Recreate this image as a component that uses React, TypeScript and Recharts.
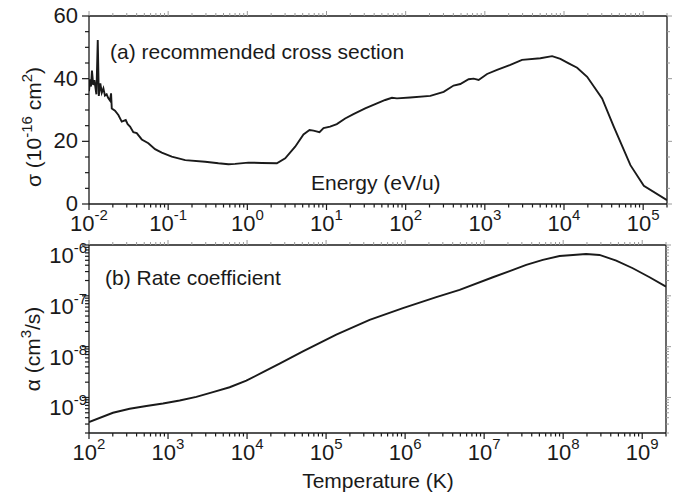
import React from 'react';
import { LineChart, Line, XAxis, YAxis } from 'recharts';

// (a) recommended cross section, sigma in 1e-16 cm^2 vs energy in eV/u
const energy = [
  0.01, 0.0103, 0.0106, 0.0109, 0.0113, 0.0117, 0.0124, 0.0129, 0.0133, 0.0139,
  0.0145, 0.0152, 0.0159, 0.0167, 0.0175, 0.0184, 0.019, 0.0194, 0.0213, 0.0235,
  0.0259, 0.0291, 0.0308, 0.033, 0.0363, 0.0401, 0.0464, 0.0562, 0.0683, 0.083,
  0.111, 0.164, 0.293, 0.431, 0.577, 0.701, 1.03, 1.52, 2.36, 3.01,
  4.02, 5.12, 6.1, 6.85, 8.16, 9.17, 11.1, 13.5, 17.2, 21.9,
  30.8, 43.4, 55.2, 67.1, 77.6, 114, 205, 302, 403, 490,
  624, 722, 835, 1067, 1427, 2100, 2950, 5030, 7080, 9000,
  11460, 14650, 19600, 30300, 42500, 69000, 101900, 200000,
];
const sigma = [
  36, 39.8, 37.5, 42.6, 38, 39.5, 35, 52.3, 34.5, 38.5,
  35.5, 36.9, 34.6, 35, 33.8, 33, 35.3, 30.5, 29.8, 28.4,
  26.3, 26.8, 25.5, 24.7, 22.9, 22.6, 20.6, 19.4, 17.5, 16.4,
  15.1, 14, 13.5, 13, 12.7, 12.8, 13.2, 13.1, 13, 14.6,
  18.3, 22.2, 23.6, 23.4, 22.9, 24.2, 24.7, 25.5, 27.3, 28.7,
  30.5, 32.1, 33.2, 33.9, 33.7, 34, 34.5, 35.8, 37.8, 38.3,
  39.8, 40, 39.6, 41.5, 42.8, 44.4, 46, 46.5, 47.2, 46.3,
  44.9, 43.5, 40.6, 33.7, 24.7, 12.4, 5.8, 1.2,
];

// (b) rate coefficient, alpha in cm^3/s vs temperature in K
const temperature = [
  100, 201, 327, 532, 863, 1403, 2280, 3700, 6020, 9790,
  15900, 25800, 50900, 134600, 355500, 938000, 2.48e6, 4.89e6, 1.29e7, 3.41e7,
  5.53e7, 9.0e7, 1.33e8, 1.95e8, 2.88e8, 4.69e8, 7.6e8, 1.24e9, 2e9,
];
const alpha = [
  3.28e-10, 5.0e-10, 6.0e-10, 6.8e-10, 7.6e-10, 8.7e-10, 1.03e-9, 1.27e-9, 1.59e-9, 2.15e-9,
  3.14e-9, 4.65e-9, 8.1e-9, 1.72e-8, 3.38e-8, 5.73e-8, 9.4e-8, 1.31e-7, 2.32e-7, 4.06e-7,
  5.08e-7, 6.08e-7, 6.37e-7, 6.67e-7, 6.37e-7, 4.93e-7, 3.49e-7, 2.32e-7, 1.52e-7,
];

const sigmaTicks = [0, 5, 10, 15, 20, 25, 30, 35, 40, 45, 50, 55, 60];
const sigmaMajor = [0, 20, 40, 60];
const energyDecades = [-2, -1, 0, 1, 2, 3, 4, 5];
const tempDecades = [2, 3, 4, 5, 6, 7, 8, 9];
const alphaDecades = [-10, -9, -8, -7, -6];

const INK = '#1a1a1a';
const FONT = '"Liberation Sans", Arial, Helvetica, sans-serif';

function logTicks(decades: number[], lo: number, hi: number) {
  const out: number[] = [];
  decades.forEach(d => {
    for (let k = 1; k < 10; k++) {
      const v = k * Math.pow(10, d);
      if (v >= lo * 0.999 && v <= hi * 1.001) out.push(v);
    }
  });
  return out;
}

const energyTicks = logTicks(energyDecades, 0.01, 2e5);
const tempTicks = logTicks(tempDecades, 100, 2e9);
const alphaTicks = logTicks(alphaDecades, 2e-10, 1e-6);

const expOf = (v: number) => Math.round(Math.log10(v));
const isMajor = (v: number) => Math.abs(v / Math.pow(10, expOf(v)) - 1) < 1e-6;

const crossSection = energy.map((e, i) => ({ e, s: sigma[i] }));
const rate = temperature.map((t, i) => ({ t, a: alpha[i] }));

const BottomLogTick = ({ x, y, payload }: any) => {
  const v = payload.value;
  const major = isMajor(v);
  return (
    <g>
      <line x1={x} x2={x} y1={y} y2={y + (major ? 6 : 3.5)} stroke={INK} strokeWidth={1.2} />
      {major && (
        <text x={x} y={y + 27} textAnchor="middle" fontSize={22} fill={INK} fontFamily={FONT}>
          10<tspan dy={-11} fontSize={15}>{`${expOf(v)}`}</tspan>
        </text>
      )}
    </g>
  );
};

const TopTick = ({ x, y, payload }: any) => (
  <line x1={x} x2={x} y1={y} y2={y - (isMajor(payload.value) ? 5 : 3)} stroke="#9a9a9a" strokeWidth={1} />
);

const LeftLinTick = ({ x, y, payload }: any) => {
  const major = sigmaMajor.includes(payload.value);
  return (
    <g>
      <line x1={x - (major ? 7 : 4)} x2={x} y1={y} y2={y} stroke={INK} strokeWidth={1.2} />
      {major && (
        <text x={x - 11} y={y + 7} textAnchor="end" fontSize={22} fill={INK} fontFamily={FONT}>
          {payload.value}
        </text>
      )}
    </g>
  );
};

const LeftLogTick = ({ x, y, payload }: any) => {
  const v = payload.value;
  const major = isMajor(v);
  return (
    <g>
      <line x1={x - (major ? 7 : 4)} x2={x} y1={y} y2={y} stroke={INK} strokeWidth={1.2} />
      {major && (
        <text x={x - 2} y={y + 18} textAnchor="end" fontSize={22} fill={INK} fontFamily={FONT}>
          10<tspan dy={-10} fontSize={15}>{`${expOf(v)}`}</tspan>
        </text>
      )}
    </g>
  );
};

const RightTick = ({ x, y, major }: any) => (
  <line x1={x} x2={x + (major ? 5 : 3)} y1={y} y2={y} stroke="#9a9a9a" strokeWidth={1} />
);

const frame = { stroke: INK, strokeWidth: 1.3 };

export default function App() {
  return (
    <div style={{ position: 'absolute', left: 0, top: 0, width: 674, height: 498, background: '#fff', fontFamily: FONT }}>
      {/* top panel: cross section */}
      <div style={{ position: 'absolute', left: 0, top: 0 }}>
        <LineChart width={674} height={240} data={crossSection} margin={{ top: 0, right: 0, bottom: 0, left: 0 }}>
          <XAxis xAxisId="b" dataKey="e" type="number" scale="log" domain={[0.01, 2e5]} allowDataOverflow
            ticks={energyTicks} interval={0} tick={(p: any) => <BottomLogTick {...p} />}
            tickSize={0} tickMargin={0} tickLine={false} height={36} axisLine={frame} />
          <XAxis xAxisId="t" orientation="top" dataKey="e" type="number" scale="log" domain={[0.01, 2e5]} allowDataOverflow
            ticks={energyTicks} interval={0} tick={(p: any) => <TopTick {...p} />}
            tickSize={0} tickMargin={0} tickLine={false} height={16} axisLine={frame} />
          <YAxis yAxisId="l" type="number" domain={[0, 60]} allowDataOverflow ticks={sigmaTicks} interval={0}
            tick={(p: any) => <LeftLinTick {...p} />} tickSize={0} tickMargin={0} tickLine={false} width={89} axisLine={frame} />
          <YAxis yAxisId="r" orientation="right" type="number" domain={[0, 60]} allowDataOverflow ticks={sigmaTicks} interval={0}
            tick={(p: any) => <RightTick {...p} major={sigmaMajor.includes(p.payload.value)} />}
            tickSize={0} tickMargin={0} tickLine={false} width={7} axisLine={frame} />
          <Line xAxisId="b" yAxisId="l" dataKey="s" type="linear" dot={false} stroke={INK} strokeWidth={1.9} isAnimationActive={false} />
        </LineChart>
      </div>

      {/* bottom panel: rate coefficient */}
      <div style={{ position: 'absolute', left: 0, top: 230 }}>
        <LineChart width={674} height={268} data={rate} margin={{ top: 0, right: 0, bottom: 0, left: 0 }}>
          <XAxis xAxisId="b" dataKey="t" type="number" scale="log" domain={[100, 2e9]} allowDataOverflow
            ticks={tempTicks} interval={0} tick={(p: any) => <BottomLogTick {...p} />}
            tickSize={0} tickMargin={0} tickLine={false} height={65} axisLine={frame} />
          <XAxis xAxisId="t" orientation="top" dataKey="t" type="number" scale="log" domain={[100, 2e9]} allowDataOverflow
            ticks={tempTicks} interval={0} tick={(p: any) => <TopTick {...p} />}
            tickSize={0} tickMargin={0} tickLine={false} height={15} axisLine={frame} />
          <YAxis yAxisId="l" type="number" scale="log" domain={[2e-10, 1e-6]} allowDataOverflow ticks={alphaTicks} interval={0}
            tick={(p: any) => <LeftLogTick {...p} />} tickSize={0} tickMargin={0} tickLine={false} width={89} axisLine={frame} />
          <YAxis yAxisId="r" orientation="right" type="number" scale="log" domain={[2e-10, 1e-6]} allowDataOverflow ticks={alphaTicks} interval={0}
            tick={(p: any) => <RightTick {...p} major={isMajor(p.payload.value)} />}
            tickSize={0} tickMargin={0} tickLine={false} width={8} axisLine={frame} />
          <Line xAxisId="b" yAxisId="l" dataKey="a" type="linear" dot={false} stroke={INK} strokeWidth={1.9} isAnimationActive={false} />
        </LineChart>
      </div>

      {/* panel titles and axis labels */}
      <svg width={674} height={498} style={{ position: 'absolute', left: 0, top: 0, pointerEvents: 'none' }}
        fontFamily={FONT} fontSize={21} fill={INK}>
        <text x={110} y={59}>(a) recommended cross section</text>
        <text x={311} y={190}>Energy (eV/u)</text>
        <text x={105} y={285}>(b) Rate coefficient</text>
        <text x={378} y={488} textAnchor="middle">Temperature (K)</text>
        <text transform="translate(41,127) rotate(-90)" textAnchor="middle">
          σ (10<tspan dy={-9} fontSize={15}>-16</tspan><tspan dy={9}> cm</tspan><tspan dy={-9} fontSize={15}>2</tspan><tspan dy={9}>)</tspan>
        </text>
        <text transform="translate(40,349) rotate(-90)" textAnchor="middle">
          α (cm<tspan dy={-9} fontSize={15}>3</tspan><tspan dy={9}>/s)</tspan>
        </text>
      </svg>
    </div>
  );
}
